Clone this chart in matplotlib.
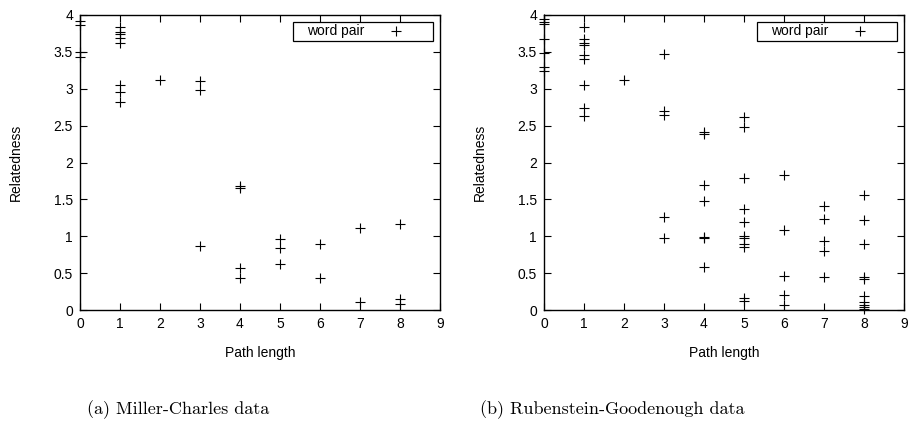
import matplotlib
matplotlib.use("Agg")
import matplotlib.pyplot as plt
from matplotlib.ticker import MultipleLocator
from matplotlib.patches import Rectangle

# Miller-Charles data (path length, relatedness)
mc_x = [0, 0, 0, 0,
        1, 1, 1, 1, 1, 1, 1, 1,
        2,
        3, 3, 3,
        4, 4, 4, 4,
        5, 5, 5,
        6, 6,
        7, 7,
        8, 8, 8]
mc_y = [3.92, 3.86, 3.50, 3.43,
        3.84, 3.77, 3.74, 3.69, 3.62, 3.05, 2.95, 2.82,
        3.12,
        3.10, 2.98, 0.87,
        1.68, 1.66, 0.565, 0.43,
        0.96, 0.845, 0.63,
        0.895, 0.43,
        1.11, 0.11,
        1.17, 0.15, 0.08]

# Rubenstein-Goodenough data
rg_x = [0, 0, 0, 0, 0, 0, 0,
        1, 1, 1, 1, 1, 1, 1, 1, 1,
        2,
        3, 3, 3, 3, 3,
        4, 4, 4, 4, 4, 4, 4,
        5, 5, 5, 5, 5, 5, 5, 5, 5, 5, 5,
        6, 6, 6, 6, 6,
        7, 7, 7, 7, 7,
        8, 8, 8, 8, 8, 8, 8, 8, 8, 8]
rg_y = [3.94, 3.91, 3.88, 3.68, 3.48, 3.30, 3.24,
        3.84, 3.68, 3.62, 3.59, 3.46, 3.41, 3.05, 2.74, 2.63,
        3.12,
        3.47, 2.70, 2.64, 1.265, 0.97,
        2.42, 2.38, 1.69, 1.48, 0.985, 0.97, 0.58,
        2.62, 2.48, 1.79, 1.37, 1.19, 1.00, 0.97, 0.90, 0.85, 0.16, 0.12,
        1.83, 1.09, 0.46, 0.20, 0.07,
        1.41, 1.24, 0.93, 0.80, 0.45,
        1.56, 1.22, 0.89, 0.45, 0.42, 0.19, 0.11, 0.07, 0.045, 0.02]

captions = ["(a) Miller-Charles data", "(b) Rubenstein-Goodenough data"]
legend_label = "word pair"
x_label = "Path length"
y_label = "Relatedness"

W, H = 912, 437
fig = plt.figure(figsize=(W / 100, H / 100), dpi=100)
plt.rcParams['font.family'] = ['Liberation Sans', 'DejaVu Sans']

def make_ax(left_px, xs, ys):
    ax = fig.add_axes([left_px / W, (H - 310) / H, 360 / W, 295 / H])
    ax.plot(xs, ys, linestyle='none', marker='+', color='black',
            markersize=7.5, markeredgewidth=0.8, label=legend_label,
            clip_on=False, zorder=3)
    ax.set_xlim(0, 9)
    ax.set_ylim(0, 4)
    ax.xaxis.set_major_locator(MultipleLocator(1))
    ax.yaxis.set_major_locator(MultipleLocator(0.5))
    ax.yaxis.set_major_formatter(plt.FuncFormatter(lambda v, p: f"{v:g}"))
    ax.tick_params(direction='in', top=True, right=True, length=5, width=0.8,
                   labelsize=10, pad=5, colors='black')
    for s in ax.spines.values():
        s.set_linewidth(1.0)
    ax.set_xlabel(x_label, fontsize=10, labelpad=11)
    ax.set_ylabel(y_label, fontsize=10, labelpad=22)
    # legend frame (gnuplot style key box)
    ax.add_patch(Rectangle((213 / 360, 269 / 295), 140 / 360, 19 / 295,
                           transform=ax.transAxes, fill=False,
                           edgecolor='black', linewidth=0.9, zorder=4))
    ax.legend(loc='center left', bbox_to_anchor=(227 / 360, 278.5 / 295),
              markerfirst=False, frameon=False, fontsize=10,
              borderpad=0, borderaxespad=0, handlelength=2.9,
              handletextpad=0.8)
    return ax

make_ax(80, mc_x, mc_y)
make_ax(544, rg_x, rg_y)

fig.text(178 / W, 1 - 410 / H, captions[0], fontsize=13, family='cmr10',
         ha='center', va='center')
fig.text(612 / W, 1 - 410 / H, captions[1], fontsize=13, family='cmr10',
         ha='center', va='center')

fig.savefig("out.png", dpi=100)
